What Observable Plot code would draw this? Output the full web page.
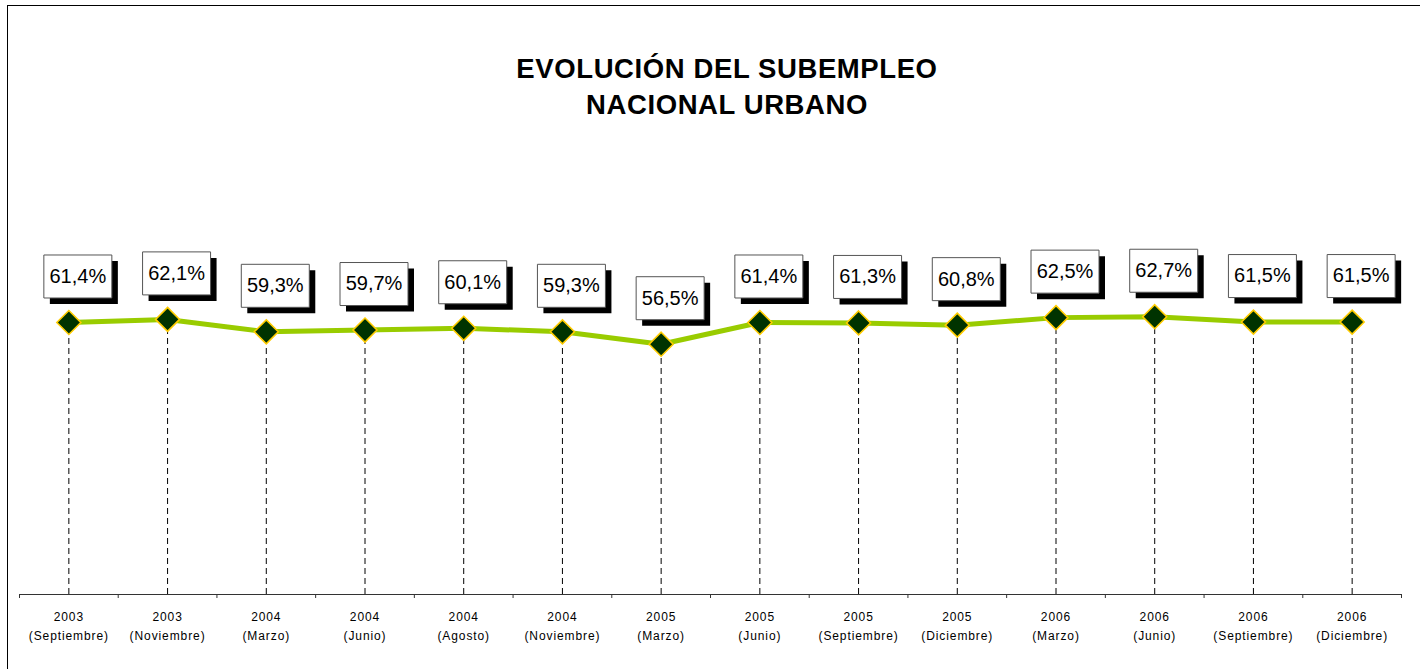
<!DOCTYPE html>
<html>
<head>
<meta charset="utf-8">
<script src="https://cdn.jsdelivr.net/npm/d3@7"></script>
<script src="https://cdn.jsdelivr.net/npm/@observablehq/plot@0.6"></script>
<style>
  html, body { margin: 0; padding: 0; background: #fff; }
  #wrap { position: relative; width: 1420px; height: 669px; overflow: hidden; background: #fff; }
  #frame { position: absolute; left: 7px; top: 5px; width: 1420px; height: 700px;
           border-left: 1.5px solid #000; border-top: 1.5px solid #000; }
  #title { position: absolute; left: 0; top: 51px; width: 1454px; text-align: center;
           font-family: "Liberation Sans", Arial, sans-serif; font-weight: bold;
           font-size: 27.5px; letter-spacing: 0.6px; line-height: 36px; color: #000; margin: 0; }
  #chart { position: absolute; left: 0; top: 0; }
</style>
</head>
<body>
<div id="wrap">
  <div id="frame"></div>
  <div id="chart"></div>
  <h1 id="title">EVOLUCIÓN DEL SUBEMPLEO<br>NACIONAL URBANO</h1>
</div>
<script>
// ---- data ----
const years = ["2003","2003","2004","2004","2004","2004","2005","2005","2005","2005","2006","2006","2006","2006"];
const months = ["Septiembre","Noviembre","Marzo","Junio","Agosto","Noviembre","Marzo","Junio","Septiembre","Diciembre","Marzo","Junio","Septiembre","Diciembre"];
const values = [61.4, 62.1, 59.3, 59.7, 60.1, 59.3, 56.5, 61.4, 61.3, 60.8, 62.5, 62.7, 61.5, 61.5];

const data = values.map((v, i) => ({i, value: v, label: `${years[i]}\n(${months[i]})`}));
const boundaries = d3.range(values.length + 1).map(k => k - 0.5);
const fmt = v => v.toFixed(1).replace(".", ",") + "%";

// fixed-size label box symbol (pixels)
const boxSymbol = {
  draw(ctx) {
    const w = 68, h = 43;
    ctx.moveTo(-w/2, -h/2); ctx.lineTo(w/2, -h/2); ctx.lineTo(w/2, h/2); ctx.lineTo(-w/2, h/2); ctx.closePath();
  }
};
const lx = 9, ly = -46;

const chart = Plot.plot({
  width: 1420,
  height: 669,
  marginLeft: 19,
  marginRight: 19,
  marginTop: 151,
  marginBottom: 75,
  style: {fontFamily: "'Liberation Sans', Arial, sans-serif", background: "transparent", overflow: "visible"},
  x: {domain: [-0.5, values.length - 0.5], axis: null},
  y: {domain: [0, 100], axis: null},
  marks: [
    Plot.ruleY([0], {stroke: "#333", strokeWidth: 1.2}),
    Plot.axisX({ticks: boundaries, tickSize: 4, tickFormat: () => "", stroke: "#333", label: null}),
    Plot.axisX(data.map(d => d.i), {tickSize: 0, tickPadding: 12, tickFormat: k => data[k].label,
      fontSize: 12, lineHeight: 1.65, fill: "#000", label: null}),
    Plot.ruleX(data, {x: "i", y1: 0, y2: "value", stroke: "#000", strokeWidth: 1, strokeDasharray: "6,4"}),
    Plot.line(data, {x: "i", y: "value", stroke: "#99CC00", strokeWidth: 5}),
    Plot.dot(data, {x: "i", y: "value", symbol: "diamond2", r: 10.8, fill: "#003300", stroke: "#FFCC00", strokeWidth: 1.6}),
    Plot.dot(data, {x: "i", y: "value", symbol: boxSymbol, fill: "#000", stroke: "none", dx: lx + 6, dy: ly + 6}),
    Plot.dot(data, {x: "i", y: "value", symbol: boxSymbol, fill: "#fff", stroke: "#555", strokeWidth: 1, dx: lx, dy: ly}),
    Plot.text(data, {x: "i", y: "value", text: d => fmt(d.value), dx: lx, dy: ly, fontSize: 20, fill: "#000"})
  ]
});
d3.select(chart).selectAll('g[aria-label="x-axis tick label"]').attr("letter-spacing", "0.9px");
document.getElementById("chart").append(chart);
</script>
</body>
</html>
